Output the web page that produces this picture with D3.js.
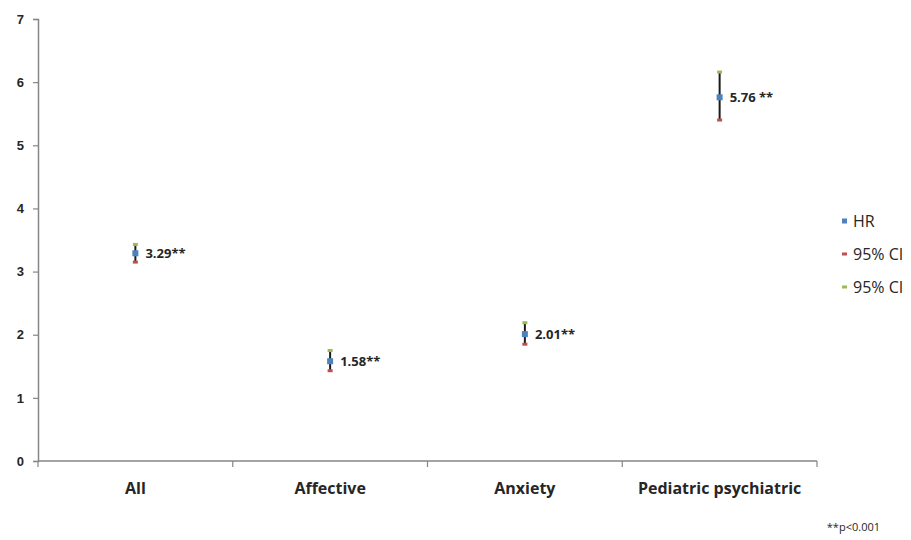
<!DOCTYPE html>
<html>
<head>
<meta charset="utf-8">
<script src="https://cdn.jsdelivr.net/npm/d3@7"></script>
<style>
  body { margin: 0; background: #fff; }
  svg { display: block; font-family: "Open Sans", Lato, sans-serif; }
</style>
</head>
<body>
<svg id="chart" width="911" height="540"></svg>
<script>
// Hazard ratios with 95% confidence intervals per outcome group
const categories = ["All", "Affective", "Anxiety", "Pediatric psychiatric"];
const hr = [3.29, 1.58, 2.01, 5.76];
const ciLower = [3.15, 1.43, 1.85, 5.40];
const ciUpper = [3.43, 1.75, 2.19, 6.16];
const valueLabels = ["3.29**", "1.58**", "2.01**", "5.76 **"];
const yTicks = [0, 1, 2, 3, 4, 5, 6, 7];
const legendItems = ["HR", "95% CI", "95% CI"];
const footnote = "**p<0.001";

const colors = { hr: "#4F81BD", lower: "#C0504D", upper: "#9BBB59", axis: "#868686", text: "#262626" };

const svg = d3.select("#chart");
const plotLeft = 38, plotRight = 817, plotTop = 19, plotBottom = 461;

const x = d3.scaleBand().domain(categories).range([plotLeft, plotRight]);
const y = d3.scaleLinear().domain([0, 7]).range([plotBottom, plotTop]);

// Y axis
const yAxis = svg.append("g")
  .attr("transform", `translate(${plotLeft},0)`)
  .call(d3.axisLeft(y).tickValues(yTicks).tickSize(5).tickPadding(8).tickFormat(d3.format("d")));
yAxis.select(".domain").attr("stroke", colors.axis).attr("stroke-width", 1.5);
yAxis.selectAll(".tick line").attr("stroke", colors.axis).attr("stroke-width", 1.2);
yAxis.selectAll(".tick text")
  .attr("fill", colors.text).style("font-size", "13px").style("font-weight", "bold")
  .attr("x", -14);

// X axis with boundary ticks between categories
const xAxis = svg.append("g").attr("transform", `translate(0,${plotBottom})`);
xAxis.append("line")
  .attr("x1", plotLeft).attr("x2", plotRight)
  .attr("stroke", colors.axis).attr("stroke-width", 1.5);
const bounds = categories.map(c => x(c)).concat([x(categories[categories.length - 1]) + x.bandwidth()]);
xAxis.selectAll("line.tk").data(bounds).join("line")
  .attr("class", "tk")
  .attr("x1", d => d).attr("x2", d => d)
  .attr("y1", 0).attr("y2", 6)
  .attr("stroke", colors.axis).attr("stroke-width", 1.2);
xAxis.selectAll("text").data(categories).join("text")
  .attr("x", d => x(d) + x.bandwidth() / 2)
  .attr("y", 33)
  .attr("text-anchor", "middle")
  .attr("fill", colors.text)
  .style("font-size", "16px").style("font-weight", "bold")
  .text(d => d);

// Error bars and markers
const pts = svg.append("g");
categories.forEach((c, i) => {
  const cx = x(c) + x.bandwidth() / 2;
  pts.append("line")
    .attr("x1", cx).attr("x2", cx)
    .attr("y1", y(ciUpper[i])).attr("y2", y(ciLower[i]))
    .attr("stroke", "#1a1a1a").attr("stroke-width", 2);
  pts.append("rect")
    .attr("x", cx - 2.5).attr("y", y(ciLower[i]) - 1.5)
    .attr("width", 5).attr("height", 3).attr("fill", colors.lower);
  pts.append("rect")
    .attr("x", cx - 2.5).attr("y", y(ciUpper[i]) - 1.5)
    .attr("width", 5).attr("height", 3).attr("fill", colors.upper);
  pts.append("rect")
    .attr("x", cx - 3).attr("y", y(hr[i]) - 3)
    .attr("width", 6).attr("height", 6).attr("fill", colors.hr);
  pts.append("text")
    .attr("x", cx + 10).attr("y", y(hr[i]))
    .attr("dy", "0.35em")
    .attr("fill", colors.text)
    .style("font-size", "13px").style("font-weight", "bold")
    .text(valueLabels[i]);
});

// Legend
const legend = svg.append("g");
const legendColors = [colors.hr, colors.lower, colors.upper];
legendItems.forEach((t, i) => {
  const ly = 221 + i * 33;
  if (i === 0) {
    legend.append("rect").attr("x", 842).attr("y", ly - 2.5).attr("width", 5).attr("height", 5).attr("fill", legendColors[i]);
  } else {
    legend.append("rect").attr("x", 842).attr("y", ly - 1.5).attr("width", 5).attr("height", 3).attr("fill", legendColors[i]);
  }
  legend.append("text")
    .attr("x", 853).attr("y", ly).attr("dy", "0.35em")
    .attr("fill", colors.text).style("font-size", "16px")
    .text(t);
});

// Significance note
svg.append("text")
  .attr("x", 880).attr("y", 531)
  .attr("text-anchor", "end")
  .attr("fill", colors.text).style("font-size", "11px")
  .text(footnote);
</script>
</body>
</html>
